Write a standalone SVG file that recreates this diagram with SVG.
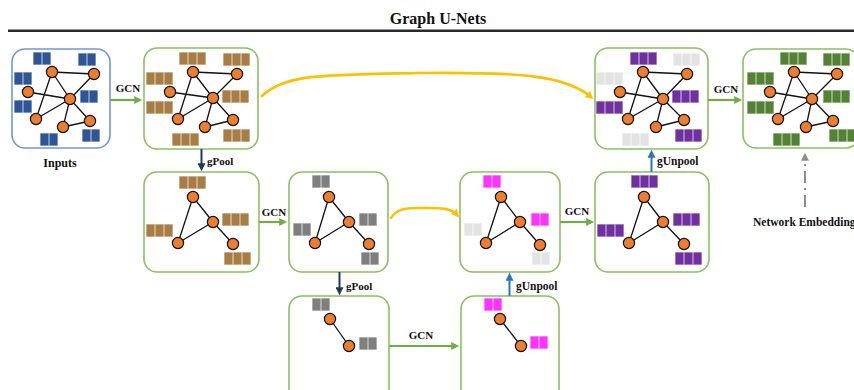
<svg xmlns="http://www.w3.org/2000/svg" xmlns:xlink="http://www.w3.org/1999/xlink" width="854" height="390" viewBox="0 0 854 390">
<style>
.t{font-family:"Liberation Serif","Times New Roman",serif;font-weight:bold;fill:#111}
.box{fill:#fff;stroke:#8cc063;stroke-width:1.6}
.boxb{fill:#fff;stroke:#6f98d8;stroke-width:1.6}
.e{stroke:#111;stroke-width:1.3;fill:none}
.n{fill:#ed7d31;stroke:#111;stroke-width:1.2}
.fc{stroke-width:1;stroke-dasharray:1 1;stroke-opacity:.55}
.bl{fill:#2f5597;stroke:#2f5597}
.br{fill:#a87c45;stroke:#a87c45}
.gr{fill:#7f7f7f;stroke:#7f7f7f}
.mg{fill:#ff33ff;stroke:#ff33ff}
.lg{fill:#e3e3e3;stroke:#e3e3e3}
.pu{fill:#7030a0;stroke:#7030a0}
.gn{fill:#548235;stroke:#548235}
.ga{stroke:#70ad47;stroke-width:2.2;fill:none}
.ya{stroke:#ffc000;stroke-width:2.6;fill:none;stroke-linecap:round}
</style>
<defs>
<g id="c3" class="fc"><rect x="0.5" y="0.5" width="8" height="12"/><rect x="9.5" y="0.5" width="8" height="12"/><rect x="18.5" y="0.5" width="8" height="12"/></g>
<g id="c2" class="fc"><rect x="0.5" y="0.5" width="8" height="12"/><rect x="9.5" y="0.5" width="8" height="12"/></g>
<marker id="ag" viewBox="0 0 10 10" refX="6" refY="5" markerWidth="9" markerHeight="8" markerUnits="userSpaceOnUse" orient="auto"><path d="M0,0 L10,5 L0,10 z" fill="#70ad47"/></marker>
<marker id="an" viewBox="0 0 10 10" refX="6" refY="5" markerWidth="9" markerHeight="8" markerUnits="userSpaceOnUse" orient="auto"><path d="M0,0 L10,5 L0,10 z" fill="#1f3864"/></marker>
<marker id="ab" viewBox="0 0 10 10" refX="6" refY="5" markerWidth="9" markerHeight="8" markerUnits="userSpaceOnUse" orient="auto"><path d="M0,0 L10,5 L0,10 z" fill="#2e75b6"/></marker>
<marker id="ay" viewBox="0 0 10 10" refX="6" refY="5" markerWidth="9" markerHeight="8" markerUnits="userSpaceOnUse" orient="auto"><path d="M0,0 L10,5 L0,10 z" fill="#ffc000"/></marker>
<marker id="ak" viewBox="0 0 10 10" refX="6" refY="5" markerWidth="9" markerHeight="8" markerUnits="userSpaceOnUse" orient="auto"><path d="M0,0 L10,5 L0,10 z" fill="#8c8c8c"/></marker>
</defs>
<rect width="854" height="390" fill="#fff"/>
<text class="t" x="438" y="24" font-size="16" text-anchor="middle">Graph U-Nets</text>
<line x1="8" y1="30.8" x2="854" y2="30.8" stroke="#2a2a2a" stroke-width="2.4"/>

<g id="inputs">
<rect class="boxb" x="12" y="49" width="98" height="99" rx="13"/>
<use href="#c2" class="bl" x="33" y="52"/><use href="#c2" class="bl" x="78" y="53"/>
<use href="#c2" class="bl" x="14" y="72"/><use href="#c2" class="bl" x="14" y="100"/>
<use href="#c2" class="bl" x="80" y="90"/><use href="#c2" class="bl" x="40" y="133"/>
<use href="#c2" class="bl" x="82" y="129"/>
<path class="e" d="M52,72L94,74M52,72L70,99M52,72L36,119M28,92L70,99M94,74L70,99M70,99L36,119M70,99L63,127M70,99L90,121M63,127L90,121"/>
<circle class="n" cx="52" cy="72" r="5.6"/><circle class="n" cx="94" cy="74" r="5.6"/><circle class="n" cx="28" cy="92" r="5.6"/><circle class="n" cx="70" cy="99" r="5.6"/><circle class="n" cx="36" cy="119" r="5.6"/><circle class="n" cx="63" cy="127" r="5.6"/><circle class="n" cx="90" cy="121" r="5.6"/>
<text class="t" x="60" y="167" font-size="12" text-anchor="middle">Inputs</text>
</g>

<g id="gcn1">
<rect class="box" x="144" y="48" width="114" height="101" rx="13"/>
<use href="#c3" class="br" x="179" y="52"/><use href="#c3" class="br" x="223" y="53"/>
<use href="#c3" class="br" x="146" y="72"/><use href="#c3" class="br" x="146" y="101"/>
<use href="#c3" class="br" x="222" y="90"/><use href="#c3" class="br" x="172" y="133"/>
<use href="#c3" class="br" x="223" y="129"/>
<path class="e" d="M193,72L237,74M193,72L213,98M193,72L178,119M170,92L213,98M237,74L213,98M213,98L178,119M213,98L205,127M213,98L233,120M205,127L233,120"/>
<circle class="n" cx="193" cy="72" r="5.6"/><circle class="n" cx="237" cy="74" r="5.6"/><circle class="n" cx="170" cy="92" r="5.6"/><circle class="n" cx="213" cy="98" r="5.6"/><circle class="n" cx="178" cy="119" r="5.6"/><circle class="n" cx="205" cy="127" r="5.6"/><circle class="n" cx="233" cy="120" r="5.6"/>
</g>

<g id="pool1">
<rect class="box" x="144" y="172" width="115" height="100" rx="13"/>
<use href="#c3" class="br" x="179" y="176"/><use href="#c3" class="br" x="222" y="213"/>
<use href="#c3" class="br" x="146" y="224"/><use href="#c3" class="br" x="224" y="252"/>
<path class="e" d="M193,197L213,222M193,197L178,243M213,222L178,243M213,222L233,244"/>
<circle class="n" cx="193" cy="197" r="5.6"/><circle class="n" cx="213" cy="222" r="5.6"/><circle class="n" cx="178" cy="243" r="5.6"/><circle class="n" cx="233" cy="244" r="5.6"/>
</g>

<g id="gcn2">
<rect class="box" x="289" y="172" width="99" height="100" rx="13"/>
<use href="#c2" class="gr" x="312" y="175"/><use href="#c2" class="gr" x="359" y="213"/>
<use href="#c2" class="gr" x="293" y="223"/><use href="#c2" class="gr" x="361" y="252"/>
<path class="e" d="M329,197L349,222M329,197L315,243M349,222L315,243M349,222L369,244"/>
<circle class="n" cx="329" cy="197" r="5.6"/><circle class="n" cx="349" cy="222" r="5.6"/><circle class="n" cx="315" cy="243" r="5.6"/><circle class="n" cx="369" cy="244" r="5.6"/>
</g>

<g id="pool2">
<rect class="box" x="289" y="296" width="100" height="110" rx="13"/>
<use href="#c2" class="gr" x="312" y="298"/><use href="#c2" class="gr" x="359" y="337"/>
<path class="e" d="M330,319L349,346"/>
<circle class="n" cx="330" cy="319" r="5.6"/><circle class="n" cx="349" cy="346" r="5.6"/>
</g>

<g id="gcn3">
<rect class="box" x="461" y="296" width="98" height="110" rx="13"/>
<use href="#c2" class="mg" x="484" y="298"/><use href="#c2" class="mg" x="530" y="336"/>
<path class="e" d="M500,319L521,346"/>
<circle class="n" cx="500" cy="319" r="5.6"/><circle class="n" cx="521" cy="346" r="5.6"/>
</g>

<g id="unpool1">
<rect class="box" x="460" y="172" width="100" height="100" rx="13"/>
<use href="#c2" class="mg" x="483" y="175"/><use href="#c2" class="mg" x="531" y="213"/>
<use href="#c2" class="lg" x="464" y="223"/><use href="#c2" class="lg" x="532" y="252"/>
<path class="e" d="M501,197L520,222M501,197L486,243M520,222L486,243M520,222L540,245"/>
<circle class="n" cx="501" cy="197" r="5.6"/><circle class="n" cx="520" cy="222" r="5.6"/><circle class="n" cx="486" cy="243" r="5.6"/><circle class="n" cx="540" cy="245" r="5.6"/>
</g>

<g id="gcn4">
<rect class="box" x="595" y="172" width="114" height="100" rx="13"/>
<use href="#c3" class="pu" x="631" y="175"/><use href="#c3" class="pu" x="673" y="213"/>
<use href="#c3" class="pu" x="597" y="224"/><use href="#c3" class="pu" x="675" y="252"/>
<path class="e" d="M644,197L663,222M644,197L629,243M663,222L629,243M663,222L684,244"/>
<circle class="n" cx="644" cy="197" r="5.6"/><circle class="n" cx="663" cy="222" r="5.6"/><circle class="n" cx="629" cy="243" r="5.6"/><circle class="n" cx="684" cy="244" r="5.6"/>
</g>

<g id="unpool2">
<rect class="box" x="595" y="48" width="113" height="101" rx="13"/>
<use href="#c3" class="pu" x="630" y="52"/><use href="#c3" class="lg" x="673" y="53"/>
<use href="#c3" class="lg" x="596" y="72"/><use href="#c3" class="pu" x="596" y="101"/>
<use href="#c3" class="pu" x="672" y="90"/><use href="#c3" class="lg" x="622" y="133"/>
<use href="#c3" class="pu" x="675" y="129"/>
<path class="e" d="M643,72L687,74M643,72L663,99M643,72L628,119M620,92L663,99M687,74L663,99M663,99L628,119M663,99L656,127M663,99L684,120M656,127L684,120"/>
<circle class="n" cx="643" cy="72" r="5.6"/><circle class="n" cx="687" cy="74" r="5.6"/><circle class="n" cx="620" cy="92" r="5.6"/><circle class="n" cx="663" cy="99" r="5.6"/><circle class="n" cx="628" cy="119" r="5.6"/><circle class="n" cx="656" cy="127" r="5.6"/><circle class="n" cx="684" cy="120" r="5.6"/>
</g>

<g id="output">
<rect class="box" x="743" y="49" width="116" height="99" rx="13"/>
<use href="#c3" class="gn" x="780" y="52"/><use href="#c3" class="gn" x="823" y="53"/>
<use href="#c3" class="gn" x="747" y="72"/><use href="#c3" class="gn" x="747" y="101"/>
<use href="#c3" class="gn" x="823" y="90"/><use href="#c3" class="gn" x="773" y="133"/>
<use href="#c3" class="gn" x="829" y="129"/>
<path class="e" d="M794,72L837,74M794,72L812,99M794,72L778,119M770,92L812,99M837,74L812,99M812,99L778,119M812,99L806,127M812,99L833,121M806,127L833,121"/>
<circle class="n" cx="794" cy="72" r="5.6"/><circle class="n" cx="837" cy="74" r="5.6"/><circle class="n" cx="770" cy="92" r="5.6"/><circle class="n" cx="812" cy="99" r="5.6"/><circle class="n" cx="778" cy="119" r="5.6"/><circle class="n" cx="806" cy="127" r="5.6"/><circle class="n" cx="833" cy="121" r="5.6"/>
<text class="t" x="753" y="226" font-size="11.5">Network Embedding</text>
</g>

<g id="connectors">
<line class="ga" x1="110" y1="100" x2="139" y2="100" marker-end="url(#ag)"/>
<text class="t" x="128" y="92" font-size="11" text-anchor="middle">GCN</text>
<line class="ga" x1="259" y1="222" x2="284" y2="222" marker-end="url(#ag)"/>
<text class="t" x="274" y="215.5" font-size="11" text-anchor="middle">GCN</text>
<line class="ga" x1="389" y1="346" x2="456" y2="346" marker-end="url(#ag)"/>
<text class="t" x="421" y="339" font-size="11" text-anchor="middle">GCN</text>
<line class="ga" x1="560" y1="222" x2="591" y2="222" marker-end="url(#ag)"/>
<text class="t" x="577" y="214.5" font-size="11" text-anchor="middle">GCN</text>
<line class="ga" x1="708" y1="100" x2="739" y2="100" marker-end="url(#ag)"/>
<text class="t" x="726" y="93" font-size="11" text-anchor="middle">GCN</text>

<line x1="201.5" y1="149" x2="201.5" y2="168" stroke="#1f3864" stroke-width="2" marker-end="url(#an)"/>
<text class="t" x="207" y="165" font-size="11">gPool</text>
<line x1="339.5" y1="272" x2="339.5" y2="292" stroke="#1f3864" stroke-width="2" marker-end="url(#an)"/>
<text class="t" x="346" y="290" font-size="11">gPool</text>
<line x1="509.5" y1="296" x2="509.5" y2="276" stroke="#2e75b6" stroke-width="2" marker-end="url(#ab)"/>
<text class="t" x="516" y="290" font-size="11.5">gUnpool</text>
<line x1="651.5" y1="172" x2="651.5" y2="153" stroke="#2e75b6" stroke-width="2" marker-end="url(#ab)"/>
<text class="t" x="657" y="165" font-size="11.5">gUnpool</text>

<path class="ya" d="M262,96 C285,74 320,75 420,73 C520,72 565,75 591,97" marker-end="url(#ay)"/>
<path class="ya" d="M391,218 C397,207 410,208 425,208 C442,208 451,208 457,215" marker-end="url(#ay)"/>

<line x1="805" y1="207" x2="805" y2="156" stroke="#8c8c8c" stroke-width="2" stroke-dasharray="12 5 2 5" marker-end="url(#ak)"/>
</g>
</svg>
